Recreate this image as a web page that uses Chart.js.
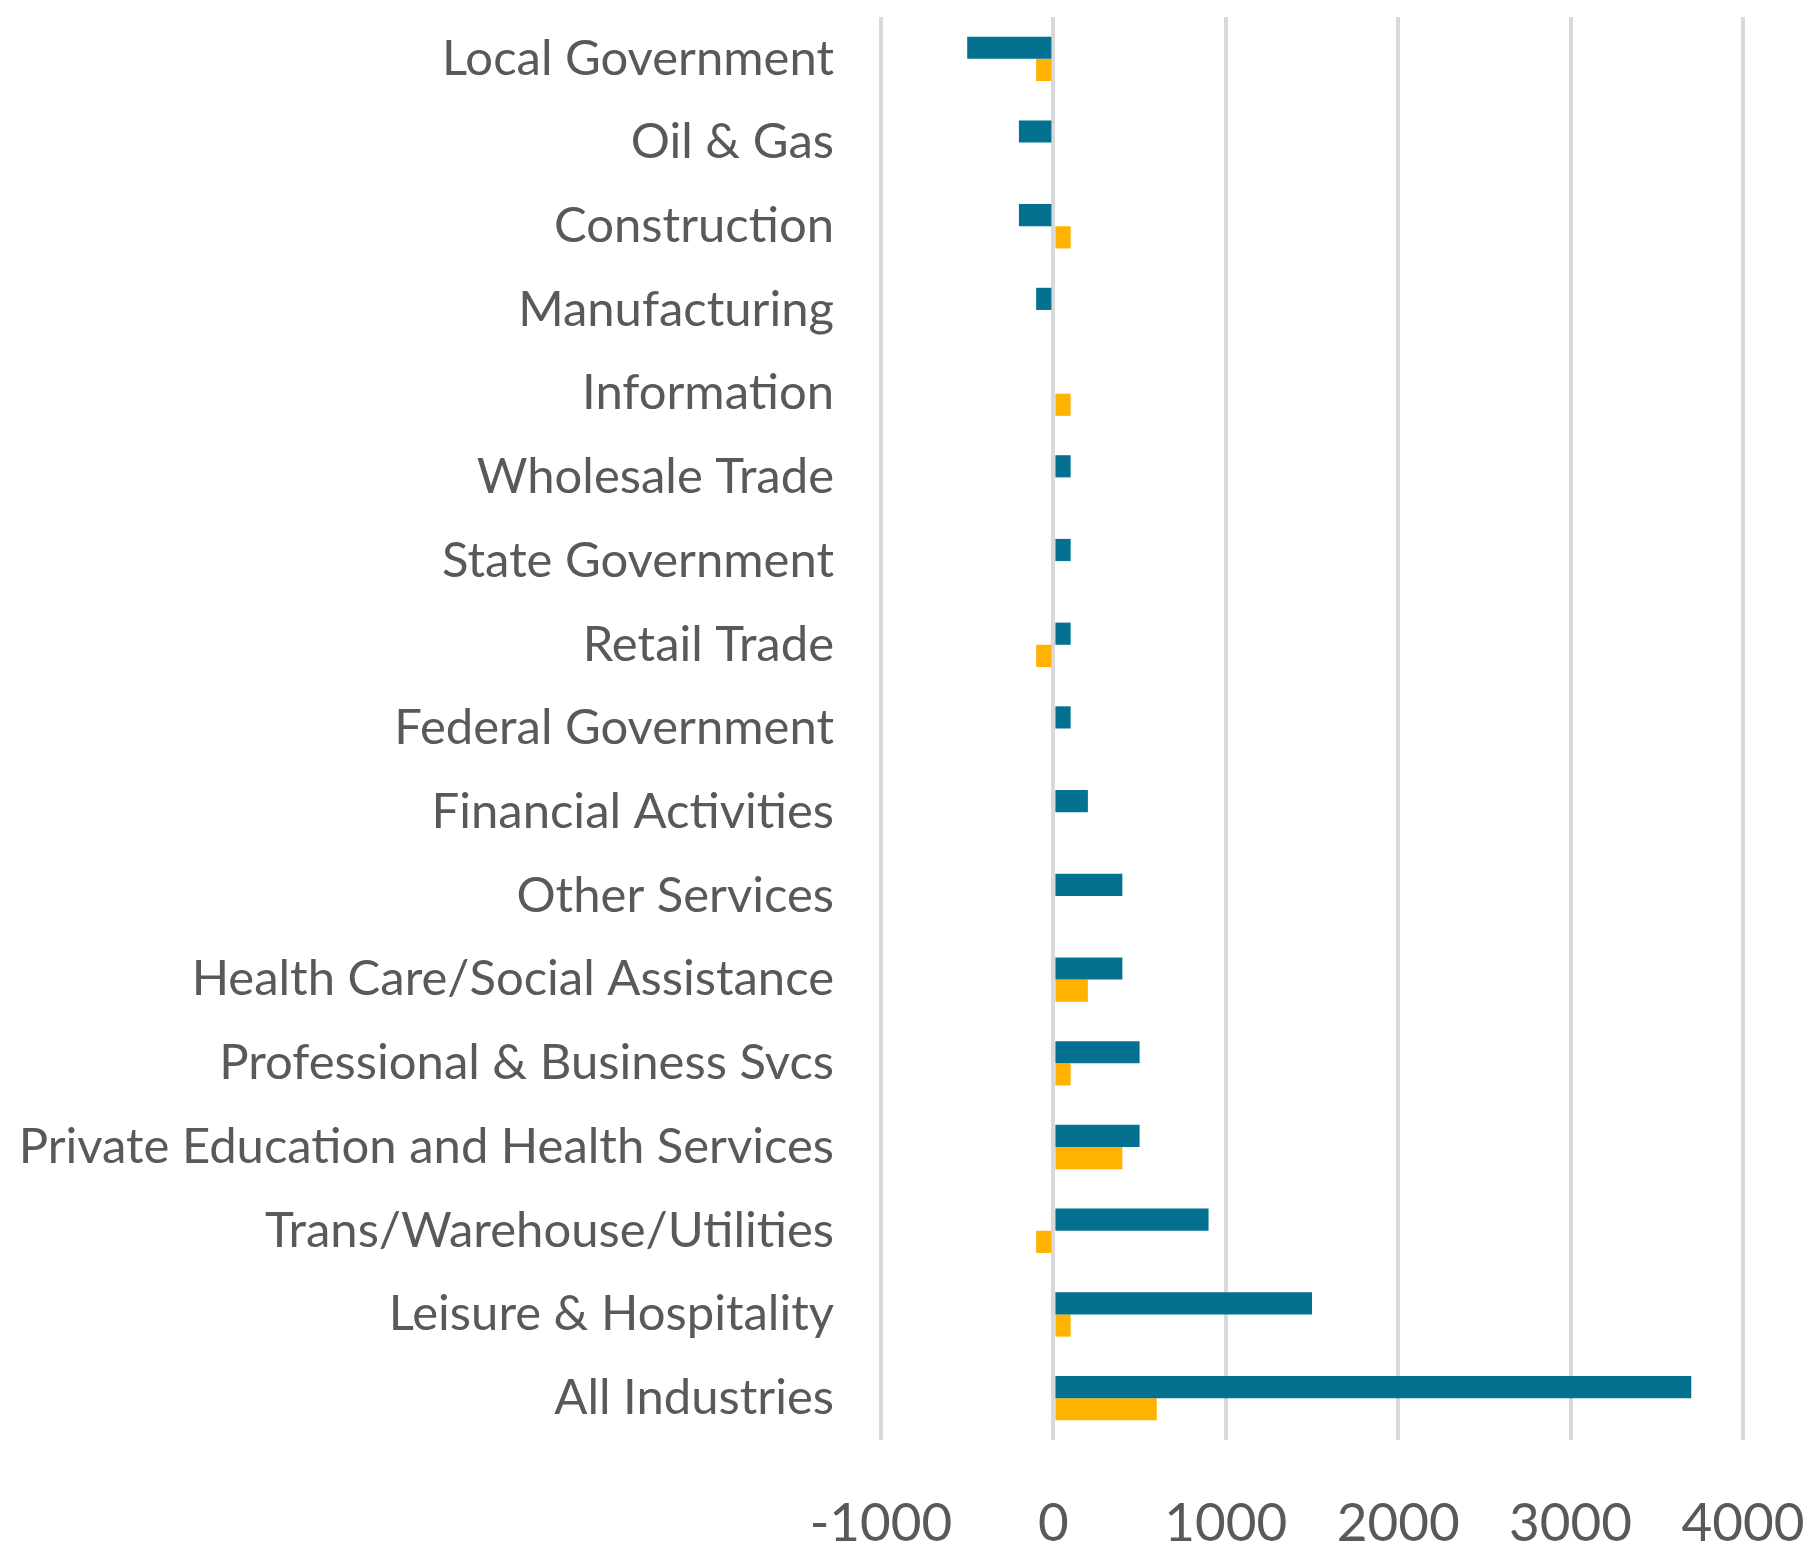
<!DOCTYPE html>
<html>
<head>
<meta charset="utf-8">
<script src="https://cdn.jsdelivr.net/npm/chart.js@4/dist/chart.umd.min.js"></script>
<style>
html,body{margin:0;padding:0;background:#fff;}
#wrap{width:1807px;height:1545px;position:relative;}
</style>
</head>
<body>
<div id="wrap"><canvas id="c" width="1807" height="1545"></canvas></div>
<script>
const categories = ["Local Government","Oil & Gas","Construction","Manufacturing","Information","Wholesale Trade","State Government","Retail Trade","Federal Government","Financial Activities","Other Services","Health Care/Social Assistance","Professional & Business Svcs","Private Education and Health Services","Trans/Warehouse/Utilities","Leisure & Hospitality","All Industries"];
const seriesBlue = [-500,-200,-200,-100,0,100,100,100,100,200,400,400,500,500,900,1500,3700];
const seriesOrange = [-100,0,100,0,100,0,0,-100,0,0,0,200,100,400,-100,100,600];
const xTicks = [-1000,0,1000,2000,3000,4000];

const FONT = "Lato";
new Chart(document.getElementById('c'), {
  type: 'bar',
  data: {
    labels: categories,
    datasets: [
      {data: seriesBlue, backgroundColor: '#03718F', categoryPercentage: 0.53, barPercentage: 1.0},
      {data: seriesOrange, backgroundColor: '#FFB300', categoryPercentage: 0.53, barPercentage: 1.0}
    ]
  },
  options: {
    indexAxis: 'y',
    responsive: false,
    animation: false,
    layout: {padding: {top: 17, right: 64, left: 0, bottom: 0}},
    plugins: {legend: {display: false}, tooltip: {enabled: false}},
    scales: {
      x: {
        min: -1000, max: 4000,
        afterBuildTicks: (s) => { s.ticks = xTicks.map(v => ({value: v})); },
        afterFit: (s) => { s.height = 105; s.paddingLeft = 0; s.paddingRight = 0; s.paddingTop = 0; s.paddingBottom = 0; },
        grid: {color: '#D9D9D9', lineWidth: 4, drawTicks: false},
        border: {display: false},
        ticks: {color: '#595959', font: {family: FONT, size: 53}, padding: 52, maxRotation: 0, autoSkip: false,
                callback: (v) => String(v)}
      },
      y: {
        afterFit: (s) => { s.width = 881; s.paddingTop = 0; s.paddingBottom = 0; s.paddingLeft = 0; s.paddingRight = 0; },
        grid: {display: false, drawTicks: false},
        border: {display: false},
        ticks: {color: '#595959', font: {family: FONT, size: 49}, padding: 47, autoSkip: false}
      }
    }
  }
});
</script>
</body>
</html>
